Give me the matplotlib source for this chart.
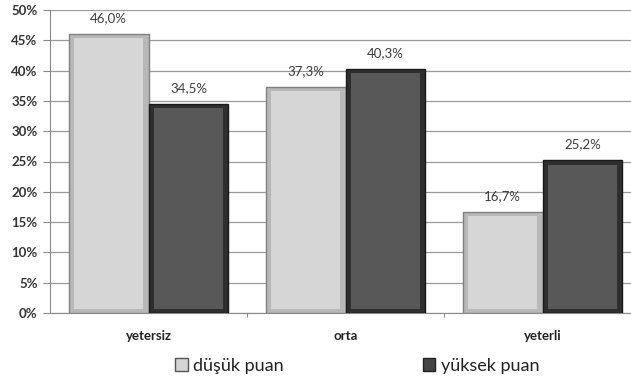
import numpy as np
import matplotlib
matplotlib.use("Agg")
import matplotlib.pyplot as plt
from matplotlib.ticker import MultipleLocator, FuncFormatter

categories = ["yetersiz", "orta", "yeterli"]
series_names = ["düşük puan", "yüksek puan"]
dusuk = [46.0, 37.3, 16.7]
yuksek = [34.5, 40.3, 25.2]

plt.rcParams["font.family"] = ["Lato", "DejaVu Sans"]

fig = plt.figure(figsize=(6.31, 3.83), dpi=100)
ax = fig.add_axes([50 / 631, 1 - 313 / 383, 591 / 631, 303 / 383])

x = np.arange(len(categories))
w = 0.406
off = 0.203

styles = [
    # (outer bevel, inner face, edge)
    ("#b8b8b8", "#d6d6d6", "#808080"),
    ("#2e2e2e", "#585858", "#1a1a1a"),
]
for vals, sign, (bev, face, edge) in zip([dusuk, yuksek], [-1, 1], styles):
    ax.bar(x + sign * off, vals, width=w, color=bev, edgecolor=edge,
           linewidth=1.0, zorder=3)
    ax.bar(x + sign * off, np.array(vals) - 1.4, bottom=0.7, width=w * 0.86,
           color=face, linewidth=0, zorder=4)
    for xi, v in zip(x + sign * off, vals):
        ax.text(xi, v + 1.6, f"{v:.1f}%".replace(".", ","), ha="center",
                va="bottom", fontsize=9.5, color="#3a3a3a", zorder=5)

ax.set_xlim(-0.5, 2.5)
ax.set_ylim(0, 50)
ax.yaxis.set_major_locator(MultipleLocator(5))
ax.yaxis.set_major_formatter(FuncFormatter(lambda v, p: f"{v:.0f}%"))
ax.grid(axis="y", color="#9a9a9a", lw=0.9, zorder=0)
ax.set_axisbelow(True)

ax.set_xticks([0.5, 1.5])
ax.set_xticklabels([])
ax.tick_params(axis="x", length=3, color="#888888")
ax.tick_params(axis="y", length=5, color="#888888", labelsize=9.5,
               labelcolor="#333333", pad=4)
for lab in ax.get_yticklabels():
    lab.set_fontweight("bold")
for xi, c in zip(x, categories):
    ax.text(xi, -2.8, c, ha="center", va="top", fontsize=9.5, fontweight="bold",
            color="#222222", transform=ax.transData, clip_on=False)

for s in ["top", "right"]:
    ax.spines[s].set_visible(False)
ax.spines["left"].set_color("#888888")
ax.spines["bottom"].set_color("#888888")

handles = [plt.Rectangle((0, 0), 1, 1, fc="#d4d4d4", ec="#555555"),
           plt.Rectangle((0, 0), 1, 1, fc="#444444", ec="#222222")]
fig.legend(handles, series_names, loc="center", bbox_to_anchor=(0.566, 1 - 366 / 383),
           ncol=2, frameon=False, fontsize=13, handlelength=0.7, handleheight=0.7,
           handletextpad=0.3, columnspacing=7.7, labelcolor="#222222")

fig.savefig("out.png", dpi=100)
